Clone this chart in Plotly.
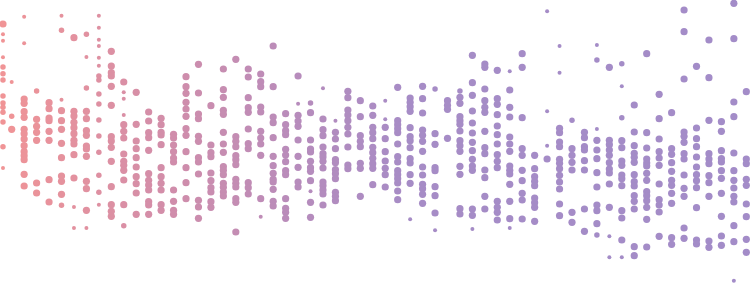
import plotly.graph_objects as go

# column positions (index units); first column sits slightly off the regular grid
col_x = [0.3] + list(range(1, 61))

# values per column (value scale runs top=0 to bottom=283)
col_vals = [
    [24.0, 34.3, 40.7, 57.3, 67.0, 73.7, 80.0, 96.0, 103.0, 107.3, 112.3, 122.0, 146.7, 168.0],
    [82.0, 116.3, 129.3],
    [16.7, 43.3, 99.0, 103.3, 111.7, 117.3, 129.3, 133.7, 139.0, 145.7, 151.7, 155.7, 159.7, 174.3, 186.0],
    [91.0, 119.3, 126.3, 132.3, 140.3, 183.0, 193.0],
    [102.7, 108.7, 118.0, 120.7, 131.3, 140.3, 179.7, 202.0],
    [15.7, 30.3, 99.7, 110.7, 120.7, 129.3, 143.3, 157.7, 176.0, 181.3, 194.3, 205.3],
    [37.7, 111.3, 116.0, 122.3, 127.7, 133.7, 140.3, 144.0, 154.7, 178.0, 207.0, 228.0],
    [34.3, 57.0, 88.0, 111.3, 118.7, 130.7, 135.3, 146.0, 149.0, 156.3, 181.3, 188.7, 210.3, 228.0],
    [15.7, 27.7, 39.7, 46.0, 57.7, 65.7, 76.0, 80.0, 94.0, 104.0, 120.0, 136.0, 152.3, 175.3, 192.3, 204.7],
    [51.3, 66.0, 72.7, 76.0, 86.3, 105.3, 136.7, 141.0, 147.3, 161.3, 186.7, 204.7, 211.3, 216.3],
    [82.0, 92.3, 98.7, 115.0, 124.7, 131.3, 138.0, 154.0, 161.3, 165.3, 170.3, 180.0, 204.7, 225.7],
    [92.3, 124.3, 141.0, 148.7, 157.7, 167.0, 176.7, 183.7, 193.0, 214.3],
    [112.0, 121.0, 132.7, 137.7, 150.3, 173.7, 180.3, 185.0, 190.0, 201.7, 205.0, 214.3],
    [118.3, 124.7, 132.3, 135.0, 144.7, 167.7, 176.7, 183.3, 190.0, 204.7, 210.3],
    [134.3, 138.0, 145.0, 151.7, 158.0, 162.0, 190.0, 201.3, 210.3, 214.3],
    [76.7, 86.7, 93.3, 102.3, 109.0, 116.3, 128.7, 135.3, 151.7, 167.7, 182.7, 198.7],
    [64.3, 93.0, 114.0, 118.7, 136.3, 141.3, 157.7, 162.0, 174.0, 200.3, 207.0, 218.3],
    [105.7, 145.0, 152.7, 156.7, 173.0, 180.7, 187.7, 192.0, 201.7, 207.3],
    [69.0, 89.7, 97.3, 110.3, 114.3, 132.3, 144.0, 152.3, 166.7, 170.3, 174.7, 183.3, 187.3, 192.0, 196.0],
    [59.3, 136.7, 141.3, 146.7, 155.7, 159.7, 164.7, 179.3, 183.3, 187.0, 198.7, 202.3, 232.0],
    [69.0, 77.0, 97.7, 107.7, 112.3, 129.0, 143.7, 148.7, 182.7, 187.7, 194.0],
    [74.0, 81.7, 86.7, 107.0, 112.0, 131.3, 138.0, 144.0, 155.3, 198.7, 216.7],
    [46.0, 86.7, 117.0, 122.7, 137.7, 156.3, 165.7, 173.3, 179.3, 182.0, 189.3, 201.3, 206.0],
    [113.7, 124.7, 130.7, 134.7, 149.3, 155.0, 161.7, 170.7, 174.7, 198.7, 208.3, 212.3, 218.3],
    [76.0, 103.7, 115.3, 121.0, 126.3, 140.0, 156.3, 167.3, 182.0, 187.0],
    [103.0, 112.7, 140.0, 149.0, 152.0, 161.3, 167.7, 171.3, 180.7, 191.3, 202.3, 217.3],
    [88.3, 119.0, 129.7, 135.7, 147.0, 153.7, 157.0, 161.3, 168.0, 182.0, 185.7, 190.0, 194.0, 205.0],
    [120.7, 132.3, 139.0, 148.7, 159.7, 162.7, 169.7, 173.7, 178.7, 192.3, 196.3, 200.7],
    [91.3, 97.7, 110.0, 115.0, 120.7, 127.3, 134.0, 147.0, 165.0, 168.7],
    [100.7, 116.7, 135.7, 141.3, 146.7, 163.3, 168.3, 196.3],
    [106.0, 115.3, 127.3, 132.7, 138.7, 147.3, 152.7, 158.3, 163.7, 168.3, 184.7],
    [100.7, 119.3, 127.3, 138.7, 151.7, 161.0, 168.3, 174.7, 187.0],
    [87.3, 120.7, 124.7, 128.7, 132.7, 144.0, 156.7, 162.0, 170.7, 174.7, 178.7, 183.0, 191.0, 199.7],
    [98.0, 102.3, 106.7, 111.3, 127.7, 136.7, 140.7, 147.7, 158.7, 163.0, 174.7, 183.3, 219.3],
    [86.3, 98.7, 113.0, 130.0, 135.3, 141.3, 151.3, 167.0, 175.0, 184.3, 188.7, 194.3, 203.3],
    [89.0, 133.7, 144.3, 167.7, 170.7, 186.7, 195.7, 213.0, 230.3],
    [100.7, 105.3, 109.3, 138.3],
    [91.0, 97.3, 103.3, 116.7, 120.7, 124.3, 131.0, 140.7, 145.7, 151.3, 166.3, 174.3, 208.7, 214.0],
    [55.3, 82.7, 95.3, 111.0, 123.0, 133.0, 142.3, 150.7, 159.3, 166.0, 170.3, 209.0, 215.3, 229.0],
    [64.0, 67.3, 89.0, 100.7, 107.3, 112.3, 131.3, 147.7, 153.7, 170.0, 177.7, 196.3, 209.0],
    [70.3, 98.7, 104.3, 114.7, 126.0, 134.7, 144.0, 154.7, 161.3, 167.7, 201.3, 207.3, 212.3, 220.0],
    [71.3, 90.0, 107.3, 117.0, 137.0, 144.0, 151.3, 166.0, 170.3, 174.0, 184.3, 201.3, 218.7, 228.0],
    [53.7, 67.3, 117.7, 148.7, 155.3, 170.3, 180.7, 193.3, 200.0, 219.0],
    [155.3, 168.7, 176.7, 181.3, 185.7, 198.0, 202.7, 207.3, 221.3],
    [11.3, 111.3, 145.7, 159.0],
    [46.0, 72.7, 128.3, 132.7, 142.0, 146.7, 159.3, 163.3, 168.7, 175.3, 182.0, 189.0, 204.0, 215.7],
    [120.3, 148.7, 155.3, 162.3, 170.0, 212.3, 222.3],
    [132.3, 137.7, 146.7, 150.0, 160.7, 170.0, 209.0, 231.3],
    [45.0, 60.0, 129.0, 140.3, 150.0, 158.7, 172.7, 187.0, 205.0, 210.7, 223.7, 235.0],
    [67.3, 140.3, 144.7, 150.0, 155.3, 162.7, 169.0, 173.0, 184.0, 207.3, 236.3, 257.3],
    [63.7, 86.3, 117.7, 140.7, 147.7, 161.0, 165.3, 175.0, 178.7, 185.7, 210.7, 218.0, 240.0, 257.3],
    [105.0, 132.0, 145.7, 153.3, 157.3, 162.3, 174.7, 181.7, 186.0, 195.7, 201.3, 209.0, 246.7, 255.7],
    [53.7, 132.7, 148.0, 159.0, 163.0, 166.0, 173.3, 180.3, 191.7, 195.7, 200.7, 207.3, 219.3, 247.0],
    [94.3, 118.7, 139.0, 151.7, 158.0, 165.3, 184.0, 199.7, 205.0, 212.0, 236.3],
    [112.7, 148.7, 154.3, 162.7, 171.3, 180.3, 185.3, 193.3, 203.3, 237.7, 244.3],
    [10.0, 31.7, 79.0, 132.0, 136.3, 142.3, 153.7, 159.0, 175.0, 188.3, 196.3, 228.0, 238.3],
    [66.3, 128.0, 138.7, 146.7, 157.0, 167.0, 174.7, 180.7, 187.7, 207.7, 240.0, 244.0],
    [40.0, 77.7, 120.3, 153.7, 159.0, 163.7, 175.7, 182.7, 196.3, 241.0, 247.3],
    [121.7, 131.3, 150.7, 158.7, 162.0, 170.7, 178.3, 193.3, 216.3, 236.0, 245.3],
    [3.3, 38.7, 102.0, 116.7, 153.0, 170.7, 180.3, 188.0, 196.3, 202.0, 225.7, 241.7, 280.7],
    [91.7, 159.0, 163.7, 179.3, 185.3, 204.0, 216.7, 239.3, 252.3],
]

# size class per dot (S small, M medium, L large); missing entries default to L
col_sizes = {
    0: "LSSSMMMMMMMMMS",
    1: "SML",
    2: "SS",
    3: "M",
    5: "SMS" + "L" * 8 + "M",
    6: "L" * 10 + "SS",
    7: "MSM" + "L" * 10 + "S",
    8: "SSSSSSMMMMMMMMMS",
    10: "LSSS" + "L" * 9 + "M",
    21: "L" * 10 + "S",
    24: "LS",
    25: "M" + "L" * 8 + "S",
    26: "S",
    27: "S",
    31: "SS",
    33: "L" * 12 + "S",
    35: "M" + "L" * 7 + "S",
    37: "M",
    38: "L" * 13 + "S",
    41: "S" + "L" * 12 + "S",
    44: "SSSL",
    45: "SS",
    46: "M",
    48: "SMS" + "L" * 8 + "M",
    49: "L" * 10 + "SS",
    50: "MSM" + "L" * 10 + "S",
    59: "L" * 12 + "S",
}
size_px = {"S": 4.0, "M": 5.5, "L": 7.2}

xs, ys, ss = [], [], []
for i, (cx, vals) in enumerate(zip(col_x, col_vals)):
    codes = col_sizes.get(i, "")
    for j, v in enumerate(vals):
        c = codes[j] if j < len(codes) else "L"
        xs.append(cx)
        ys.append(v)
        ss.append(size_px[c])

colorscale = [
    [0.0, "rgb(241,148,150)"],
    [0.25, "rgb(206,141,172)"],
    [0.4, "rgb(183,140,188)"],
    [0.55, "rgb(166,140,198)"],
    [1.0, "rgb(163,140,200)"],
]

fig = go.Figure(
    go.Scatter(
        x=xs,
        y=ys,
        mode="markers",
        marker=dict(
            size=ss,
            color=xs,
            colorscale=colorscale,
            cmin=0,
            cmax=60,
            opacity=1,
            line=dict(width=0),
        ),
        hoverinfo="skip",
        cliponaxis=False,
    )
)

fig.update_layout(
    width=750,
    height=283,
    margin=dict(l=0, r=0, t=0, b=0),
    paper_bgcolor="white",
    plot_bgcolor="white",
    showlegend=False,
    xaxis=dict(range=[0.0603, 60.296], visible=False, fixedrange=True),
    yaxis=dict(range=[283, 0], visible=False, fixedrange=True),
)

fig.write_html("out.html")
